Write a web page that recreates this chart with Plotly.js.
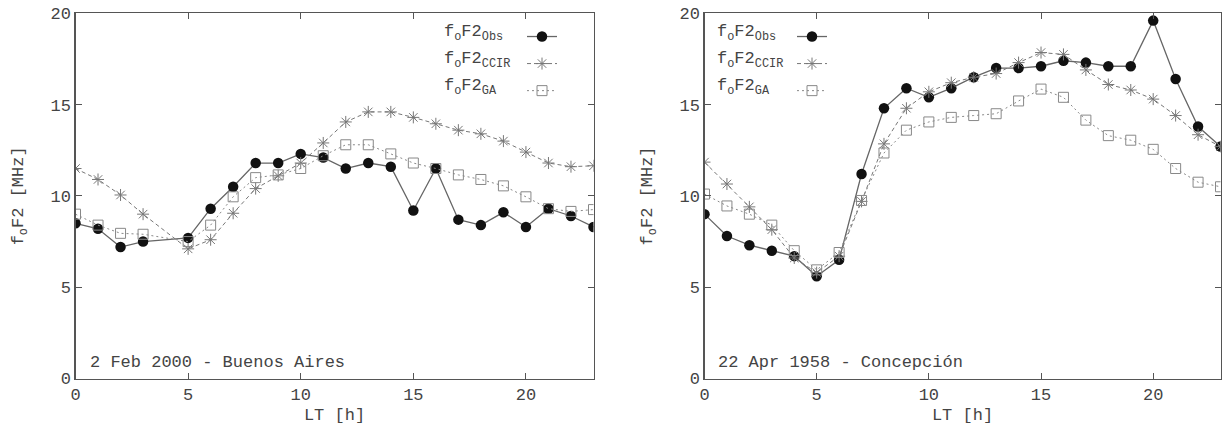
<!DOCTYPE html>
<html><head><meta charset="utf-8">
<script src="https://cdn.plot.ly/plotly-3.0.1.min.js"></script>
<style>html,body{margin:0;padding:0;background:#fff;}</style>
</head><body>
<div id="chart" style="width:1222px;height:434px;"></div>
<script>
// Buenos Aires, 2 Feb 2000 (no value at 04 LT)
const hoursBA = [0,1,2,3,5,6,7,8,9,10,11,12,13,14,15,16,17,18,19,20,21,22,23];
const obsBA  = [8.5,8.2,7.2,7.5,7.7,9.3,10.5,11.8,11.8,12.3,12.1,11.5,11.8,11.6,9.2,11.5,8.7,8.4,9.1,8.3,9.3,8.9,8.3];
const ccirBA = [11.5,10.9,10.05,9.0,7.1,7.6,9.05,10.4,11.1,11.8,12.9,14.05,14.6,14.6,14.3,13.95,13.6,13.4,13.0,12.4,11.8,11.6,11.65];
const gaBA   = [9.0,8.4,7.95,7.9,7.5,8.4,9.95,11.0,11.15,11.5,12.2,12.8,12.8,12.3,11.8,11.5,11.15,10.9,10.55,9.95,9.3,9.15,9.25];
// Concepción, 22 Apr 1958
const hoursCO = [0,1,2,3,4,5,6,7,8,9,10,11,12,13,14,15,16,17,18,19,20,21,22,23];
const obsCO  = [9.0,7.8,7.3,7.0,6.7,5.6,6.5,11.2,14.8,15.9,15.4,15.9,16.5,17.0,17.0,17.1,17.4,17.3,17.1,17.1,19.6,16.4,13.8,12.7];
const ccirCO = [11.85,10.65,9.4,8.15,6.6,5.8,6.7,9.7,12.85,14.8,15.7,16.2,16.5,16.7,17.3,17.85,17.75,16.9,16.1,15.8,15.3,14.4,13.35,12.7];
const gaCO   = [10.1,9.45,9.0,8.4,7.0,5.95,6.9,9.75,12.35,13.6,14.05,14.3,14.4,14.5,15.2,15.85,15.4,14.15,13.3,13.05,12.55,11.5,10.75,10.5];

const seriesLabels = ['f<sub>o</sub>F2<sub>Obs</sub>','f<sub>o</sub>F2<sub>CCIR</sub>','f<sub>o</sub>F2<sub>GA</sub>'];
const panelLabels = ['2 Feb 2000 - Buenos Aires','22 Apr 1958 - Concepción'];
const xTitle = 'LT [h]';
const yTitle = 'f<sub>o</sub>F2 [MHz]';

const FONT = 'Liberation Mono, Courier New, monospace';
const TXT = '#444';

function traces(hours, obs, ccir, ga, xa, ya, leg){
  return [
    {x:hours, y:obs, xaxis:xa, yaxis:ya, legend:leg, name:' ', mode:'lines+markers',
     line:{color:'#666', width:1.3}, marker:{symbol:'circle', size:10.5, color:'#111'}},
    {x:hours, y:ccir, xaxis:xa, yaxis:ya, legend:leg, name:' ', mode:'lines+markers',
     line:{color:'#777', width:1, dash:'4px,3px'}, marker:{symbol:'asterisk-open', size:10, line:{color:'#444', width:1}}},
    {x:hours, y:ga, xaxis:xa, yaxis:ya, legend:leg, name:' ', mode:'lines+markers',
     line:{color:'#888', width:1, dash:'2px,3px'}, marker:{symbol:'square-open', size:10, color:'#888', line:{color:'#888', width:1}}}
  ];
}

const data = [].concat(
  traces(hoursBA, obsBA, ccirBA, gaBA, 'x', 'y', 'legend'),
  traces(hoursCO, obsCO, ccirCO, gaCO, 'x2', 'y2', 'legend2')
);

function xax(domain, anchor){
  return {domain:domain, anchor:anchor, range:[0,23], dtick:5, tick0:0, showgrid:false, zeroline:false,
    showline:true, mirror:'ticks', linecolor:'#555', linewidth:1.2, ticks:'inside', ticklen:6, tickcolor:'#555',
    tickfont:{family:FONT, size:17, color:TXT},
    title:{text:xTitle, font:{family:FONT, size:17, color:TXT}, standoff:4}};
}
function yax(domain, anchor){
  return {domain:domain, anchor:anchor, range:[0,20], dtick:5, tick0:0, showgrid:false, zeroline:false,
    showline:true, mirror:'ticks', linecolor:'#555', linewidth:1.2, ticks:'inside', ticklen:6, tickcolor:'#555',
    tickfont:{family:FONT, size:17, color:TXT},
    title:{text:yTitle, font:{family:FONT, size:17, color:TXT}, standoff:22}};
}

const yd = [1-378.5/434, 1-13.3/434];
const xd1 = [75.5/1222, 593.5/1222];
const xd2 = [704.5/1222, 1220.5/1222];

const annotations = [];
function legendText(xpx){
  seriesLabels.forEach((t,i)=>{
    annotations.push({xref:'paper', yref:'paper', x:xpx/1222, y:1-(33+27*i)/434, xanchor:'left', yanchor:'middle',
      text:t, showarrow:false, font:{family:FONT, size:17, color:TXT}});
  });
}
legendText(442);
legendText(715);
annotations.push({xref:'x', yref:'y', x:0.55, y:0.9, xanchor:'left', yanchor:'middle', text:panelLabels[0], showarrow:false, font:{family:FONT, size:17, color:TXT}});
annotations.push({xref:'x2', yref:'y2', x:0.5, y:0.9, xanchor:'left', yanchor:'middle', text:panelLabels[1], showarrow:false, font:{family:FONT, size:17, color:TXT}});

const legBase = {bgcolor:'rgba(0,0,0,0)', borderwidth:0, font:{family:FONT, size:18.5, color:TXT},
  xanchor:'left', yanchor:'top', tracegroupgap:0, itemwidth:30};

const layout = {
  width:1222, height:434, margin:{l:0, r:0, t:0, b:0}, paper_bgcolor:'#fff', plot_bgcolor:'#fff',
  xaxis:xax(xd1,'y'), yaxis:yax(yd,'x'),
  xaxis2:xax(xd2,'y2'), yaxis2:yax(yd,'x2'),
  legend:Object.assign({x:522/1222, y:1-18/434}, legBase),
  legend2:Object.assign({x:792/1222, y:1-18/434}, legBase),
  annotations:annotations,
  showlegend:true
};

Plotly.newPlot('chart', data, layout, {staticPlot:true, displayModeBar:false});
</script>
</body></html>
